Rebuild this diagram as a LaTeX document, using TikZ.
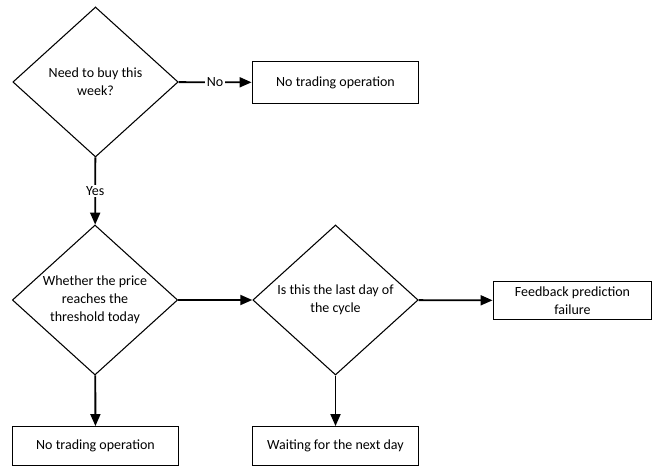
\documentclass[tikz,border=0pt]{standalone}
\usepackage{fontspec}
\setmainfont{Carlito}
\usetikzlibrary{positioning,arrows.meta,shapes.geometric}

\begin{document}
\begin{tikzpicture}[x=0.75pt, y=-0.75pt,
  every node/.style = {font=\fontsize{10.5}{13.5}\selectfont},
  decision/.style = {
    draw, shape=diamond, line width=0.8pt,
    inner sep=-14pt, align=center,
    minimum width=124pt, minimum height=112.5pt,
  },
  action/.style = {
    draw, shape=rectangle, line width=0.9pt,
    inner sep=0pt, align=center,
    minimum width=125pt, minimum height=29pt,
  },
  flow/.style = {line width=1.4pt, -{Triangle[length=9pt,width=7.5pt]}},
  answer/.style = {fill=white, inner sep=1pt}]
  \useasboundingbox (0,0) rectangle (653,466);
  % first check
  \node[decision] (buy) at (95.5,82) {Need to buy this\\week?};
  \node[action, minimum height=31pt] (skipweek) at (335.5,82.5) {No trading operation};
  % daily checks
  \node[decision] (price) at (95,300) {Whether the price\\reaches the\\threshold today};
  \node[decision] (lastday) at (335.5,300) {Is this the last day of\\the cycle};
  \node[action, minimum width=119pt] (failure) at (572.5,300.5) {Feedback prediction\\failure};
  \node[action] (skipday) at (95.5,446) {No trading operation};
  \node[action] (wait) at (335.5,446) {Waiting for the next day};
  % connectors
  \draw[flow] (buy) -- node[answer] {No} (skipweek);
  \draw[flow] (buy) -- node[answer] {Yes} (price);
  \draw[flow] (price) -- (lastday);
  \draw[flow] (lastday) -- (failure);
  \draw[flow] (price) -- (skipday);
  \draw[flow] (lastday) -- (wait);
\end{tikzpicture}
\end{document}
